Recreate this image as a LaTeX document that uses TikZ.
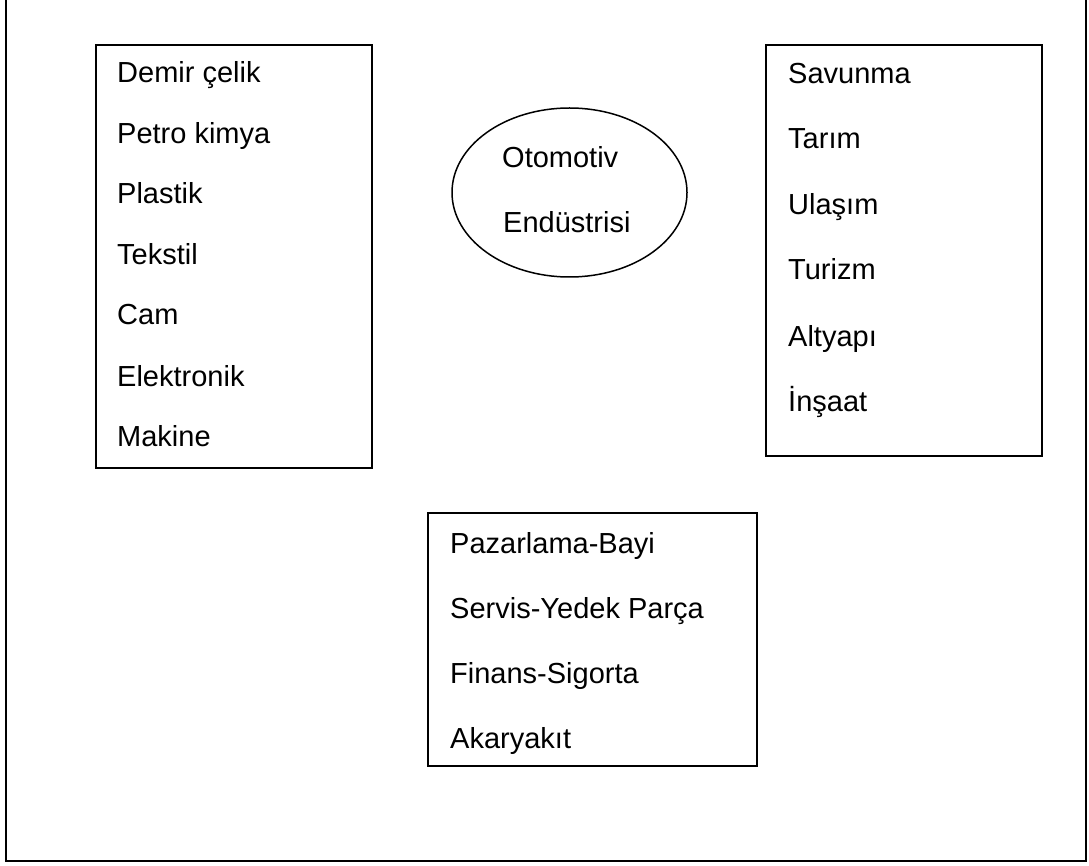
\documentclass[tikz,border=0pt]{standalone}
\usepackage{fontspec}
\setmainfont{Liberation Sans}
\usetikzlibrary{shapes.geometric}

\begin{document}
\begin{tikzpicture}[x=1pt, y=-1pt,
        font=\fontsize{29}{34}\selectfont,
        itm/.style={anchor=base west, inner sep=0pt},
        box/.style={draw, line width=2pt},
        frm/.style={draw, line width=2.5pt}
    ]
    \useasboundingbox (0,0) rectangle (1089,866);

    % outer frame, top edge lies outside the page
    \draw[frm] (6,-10) -- (6,861) -- (1086,861) -- (1086,-10);

    % supplier industries
    \draw[box] (96,45) rectangle (372,468);
    \node[itm] (demir)   at (117,83)  {Demir çelik};
    \node[itm] (petro)   at (117,144) {Petro kimya};
    \node[itm] (plastik) at (117,204) {Plastik};
    \node[itm] (tekstil) at (117,265) {Tekstil};
    \node[itm] (cam)     at (117,325) {Cam};
    \node[itm] (elektro) at (117,386) {Elektronik};
    \node[itm] (makine)  at (117,446) {Makine};

    % centre
    \node[draw, ellipse, line width=1.5pt, minimum width=235, minimum height=169] (oto) at (569.5,192.5) {};
    \node[itm] (otoA) at (502,168) {Otomotiv};
    \node[itm] (otoB) at (503,233) {Endüstrisi};

    % user sectors
    \draw[box] (766,45) rectangle (1042,456);
    \node[itm] (savunma) at (788,84)  {Savunma};
    \node[itm] (tarim)   at (788,149) {Tarım};
    \node[itm] (ulasim)  at (788,215) {Ulaşım};
    \node[itm] (turizm)  at (788,280) {Turizm};
    \node[itm] (altyapi) at (788,346) {Altyapı};
    \node[itm] (insaat)  at (788,411) {İnşaat};

    % services
    \draw[box] (428,513) rectangle (757,766);
    \node[itm] (pazar)  at (450,553) {Pazarlama-Bayi};
    \node[itm] (servis) at (450,618) {Servis-Yedek Parça};
    \node[itm] (finans) at (450,683) {Finans-Sigorta};
    \node[itm] (akar)   at (450,748) {Akaryakıt};
\end{tikzpicture}
\end{document}
